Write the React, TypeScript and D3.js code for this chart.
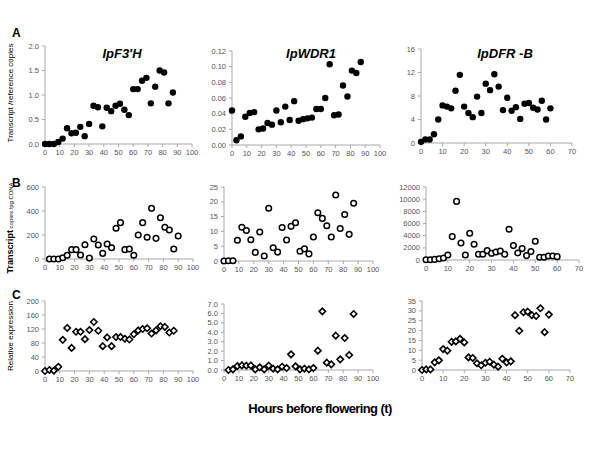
import React from "react";
import * as d3 from "d3";

// ---------- data ----------
const tA = [0,3,6,9,12,15,18,21,24,27,30,33,36,39,42,45,48,51,54,57,60,63,66,69,72,75,78,81,84,87];
const f3hA = [0,0,0,0.04,0.11,0.32,0.22,0.23,0.35,0.16,0.41,0.78,0.75,0.36,0.74,0.67,0.78,0.82,0.70,0.59,1.12,1.12,1.29,1.35,0.83,1.17,1.50,1.46,0.83,1.05];
const wdrA = [0.044,0.006,0.011,0.036,0.041,0.042,0.020,0.021,0.028,0.026,0.044,0.029,0.049,0.032,0.056,0.031,0.033,0.034,0.035,0.046,0.046,0.060,0.103,0.038,0.039,0.076,0.062,0.095,0.092,0.106];
const tD = [0,2,4,6,8,10,12,14,16,18,20,22,24,26,28,30,32,34,36,38,40,42,44,46,48,50,52,54,56,58,60];
const dfrA = [0.2,0.6,0.6,1.5,4.0,6.4,6.2,5.9,8.9,11.6,6.2,5.1,4.4,7.9,5.1,10.1,9.0,11.7,9.6,5.6,7.7,5.5,6.1,4.1,6.7,6.8,6.0,5.7,7.2,4.0,5.9];

const tB1 = [3,6,9,12,15,18,21,24,27,30,33,36,39,42,45,48,51,54,57,60,63,66,69,72,75,78,81,84,87,90];
const f3hB = [0,0,0,11,31,78,78,33,119,8,167,117,47,125,94,256,303,78,83,31,200,303,181,422,172,344,264,242,83,192];
const wdrB = [0,0.1,0.1,7.0,11.4,10.3,7.2,2.9,9.8,1.7,17.8,4.5,3.0,11.3,7.1,11.7,12.9,3.3,4.1,2.4,8.1,16.3,14.4,11.9,8.1,22.3,11.0,15.7,9.0,19.5];
const dfrB = [50,50,100,200,330,830,3850,9630,2800,830,4400,2600,940,940,1540,1100,1320,1490,940,5060,2370,1160,1870,720,1380,3080,440,440,660,660,550];

const f3hC = [0,3,1,12,89,123,66,112,112,91,117,140,115,71,96,71,97,97,92,90,105,116,120,122,107,116,128,126,110,115];
const tC2 = [3,6,9,12,15,18,21,24,27,30,33,36,39,42,45,48,51,54,57,60,63,66,69,72,75,78,81,84,87];
const wdrC = [0,0.07,0.42,0.49,0.46,0.48,0.07,0.28,0.07,0.46,0.14,0.07,0.35,0.21,1.66,0.39,0.07,0.14,0.07,0.21,2.05,6.22,0.78,0.6,3.64,1.13,3.39,1.59,5.94];
const dfrC = [0,0.3,0.3,3.9,4.9,10.6,9.8,14.3,14.5,15.8,14.0,6.4,6.1,3.4,2.4,3.7,4.2,2.7,1.7,5.7,3.9,4.4,27.8,19.9,29.3,29.6,27.8,27.4,31.3,19.2,28.1];

const geneTitles = ["IpF3'H", "IpWDR1", "IpDFR -B"];
const rowLetters = ["A", "B", "C"];
const xTitle = "Hours before flowering  (t)";

type Panel = {
  xs: number[]; ys: number[];
  xMax: number; yMax: number; yStep: number; dec: number;
  px: [number, number]; py: [number, number];
  mark: "dot" | "circle" | "diamond";
};

const panels: Panel[] = [
  { xs: tA, ys: f3hA, xMax: 100, yMax: 2, yStep: 0.5, dec: 1, px: [45, 192], py: [144, 46], mark: "dot" },
  { xs: tA, ys: wdrA, xMax: 100, yMax: 0.12, yStep: 0.02, dec: 2, px: [232, 380], py: [145, 51], mark: "dot" },
  { xs: tD, ys: dfrA, xMax: 70, yMax: 16, yStep: 4, dec: 0, px: [421, 572], py: [143, 49], mark: "dot" },
  { xs: tB1, ys: f3hB, xMax: 100, yMax: 600, yStep: 200, dec: 0, px: [45, 193], py: [259, 187], mark: "circle" },
  { xs: tA, ys: wdrB, xMax: 100, yMax: 25, yStep: 5, dec: 0, px: [224, 373], py: [261, 187], mark: "circle" },
  { xs: tD, ys: dfrB, xMax: 70, yMax: 12000, yStep: 2000, dec: 0, px: [426, 579], py: [260, 187], mark: "circle" },
  { xs: tA, ys: f3hC, xMax: 100, yMax: 200, yStep: 40, dec: 0, px: [45, 193], py: [371, 301], mark: "diamond" },
  { xs: tC2, ys: wdrC, xMax: 100, yMax: 7, yStep: 1, dec: 1, px: [224, 373], py: [370, 304], mark: "diamond" },
  { xs: tD, ys: dfrC, xMax: 70, yMax: 35, yStep: 5, dec: 0, px: [422, 570], py: [370, 301], mark: "diamond" },
];

const axisColor = "#a8a8a8";
const tickFont = "'Liberation Sans', Arial, sans-serif";

function PanelView({ p }: { p: Panel }) {
  const x = d3.scaleLinear().domain([0, p.xMax]).range(p.px);
  const y = d3.scaleLinear().domain([0, p.yMax]).range(p.py);
  const xt = d3.range(0, p.xMax + 0.001, 10);
  const yt = d3.range(0, p.yMax + p.yStep / 1000, p.yStep);
  const fmt = d3.format(`.${p.dec}f`);
  const diamond = d3.symbol().type(d3.symbolDiamond2).size(26)();
  return (
    <g>
      <line x1={p.px[0]} x2={p.px[1]} y1={p.py[0]} y2={p.py[0]} stroke={axisColor} strokeWidth={1} />
      <line x1={p.px[0]} x2={p.px[0]} y1={p.py[0]} y2={p.py[1]} stroke={axisColor} strokeWidth={1} />
      {xt.map((v) => (
        <g key={"x" + v}>
          <line x1={x(v)} x2={x(v)} y1={p.py[0]} y2={p.py[0] + 3} stroke={axisColor} />
          <text x={x(v)} y={p.py[0] + 11} fontSize={7.5} textAnchor="middle" fill="#555" fontFamily={tickFont}>{v}</text>
        </g>
      ))}
      {yt.map((v) => (
        <g key={"y" + v}>
          <line x1={p.px[0] - 3} x2={p.px[0]} y1={y(v)} y2={y(v)} stroke={axisColor} />
          <text x={p.px[0] - 6} y={y(v) + 2.5} fontSize={7.5} textAnchor="end" fill="#555" fontFamily={tickFont}>{fmt(v)}</text>
        </g>
      ))}
      {p.xs.map((xv, i) => {
        const cx = x(xv), cy = y(p.ys[i]);
        if (p.mark === "dot") return <circle key={i} cx={cx} cy={cy} r={3.2} fill="#000" />;
        if (p.mark === "circle") return <circle key={i} cx={cx} cy={cy} r={2.8} fill="#fff" stroke="#000" strokeWidth={1.5} />;
        return <path key={i} d={diamond as string} transform={`translate(${cx},${cy})`} fill="#fff" stroke="#000" strokeWidth={1.6} />;
      })}
    </g>
  );
}

export default function App() {
  const titleX = [122, 311, 505];
  const letterY = [37, 187, 299];
  return (
    <svg width={600} height={450} style={{ display: "block", position: "absolute", left: 0, top: 0, background: "#fff" }}>
      <rect width={600} height={450} fill="#fff" />
      {panels.map((p, i) => <PanelView key={i} p={p} />)}
      {geneTitles.map((g, i) => (
        <text key={g} x={titleX[i]} y={58} fontSize={13} fontWeight="bold" fontStyle="italic" textAnchor="middle" fontFamily="'Liberation Sans', Arial, sans-serif">{g}</text>
      ))}
      {rowLetters.map((l, i) => (
        <text key={l} x={12} y={letterY[i]} fontSize={12} fontWeight="bold" fontFamily="'Liberation Sans', Arial, sans-serif">{l}</text>
      ))}
      <text transform="translate(13,93) rotate(-90)" fontSize={8} textAnchor="middle" fontFamily="'Liberation Sans', Arial, sans-serif">Transcript /reference copies</text>
      <text transform="translate(13,228) rotate(-90)" textAnchor="middle" fontFamily="'Liberation Sans', Arial, sans-serif">
        <tspan fontSize={9} fontWeight="bold">Transcript</tspan>
        <tspan fontSize={6}> copies /pg CDNA</tspan>
      </text>
      <text transform="translate(13,336) rotate(-90)" fontSize={8} textAnchor="middle" fontFamily="'Liberation Sans', Arial, sans-serif">Relative expression</text>
      <text x={320} y={413} fontSize={13} fontWeight="bold" textAnchor="middle" letterSpacing={-0.6} fontFamily="'Liberation Sans', Arial, sans-serif">{xTitle}</text>
    </svg>
  );
}
